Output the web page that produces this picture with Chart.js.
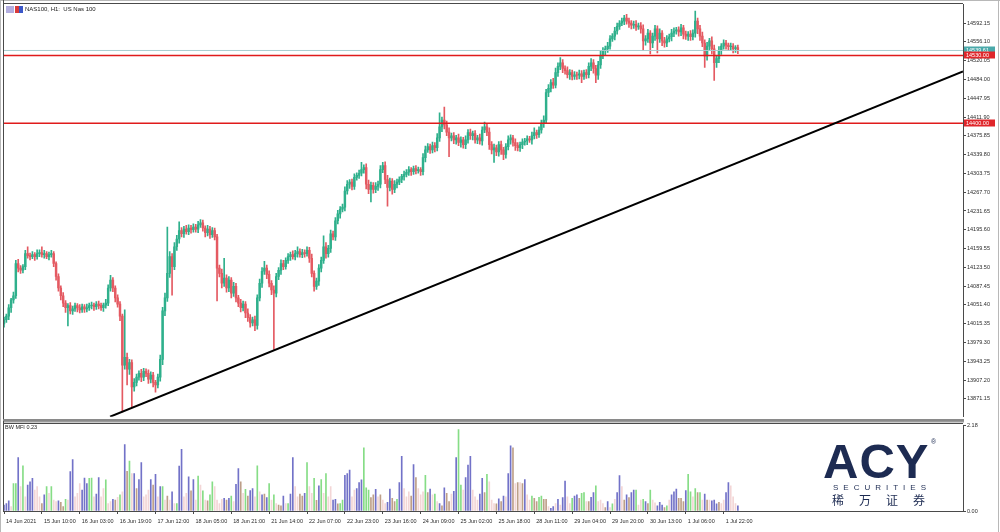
<!DOCTYPE html>
<html>
<head>
<meta charset="utf-8">
<title>NAS100 H1</title>
<script src="https://cdn.jsdelivr.net/npm/chart.js@4.4.1/dist/chart.umd.min.js"></script>
<style>
    html, body { margin: 0; padding: 0; background: #fff; }
    #wrap { position: relative; width: 1000px; height: 532px; overflow: hidden; background: #fff; }
    canvas { position: absolute; left: 0; display: block; }
    #main { top: 0; }
    #mfi { top: 421px; }
    .logo { position: absolute; color: #1d2b52; white-space: nowrap; }
</style>
</head>
<body>
<div id="wrap">
    <canvas id="main" width="1000" height="421" style="width:1000px;height:421px"></canvas>
    <canvas id="mfi" width="1000" height="111" style="width:1000px;height:111px"></canvas>
    <div class="logo" style="left:823px;top:437px;font:bold 49px/49px 'Liberation Sans',Arial,sans-serif;letter-spacing:1px">ACY</div>
    <div class="logo" style="left:931px;top:438px;font:7px/7px 'Liberation Sans',Arial,sans-serif">®</div>
    <div class="logo" style="left:833px;top:484px;font:8px/8px 'Liberation Sans',Arial,sans-serif;letter-spacing:5px">SECURITIES</div>
    <div class="logo" style="left:832px;top:493px;font:12px/13px 'Noto Sans CJK SC',sans-serif;letter-spacing:15px">稀万证券</div>
</div>
<script>
// ---- data ----
var firstOpen = 14015;

// H1 closes, one per bar (open = previous close)
var closes = [
    14023,14030,14046,14061,14069,14131,14122,14118,14125,14150,
    14146,14144,14148,14144,14150,14152,14148,14150,14144,14148,
    14150,14131,14106,14084,14069,14055,14046,14050,14040,14044,
    14050,14046,14042,14048,14044,14046,14050,14051,14048,14053,
    14050,14046,14051,14055,14084,14099,14084,14065,14053,14030,
    13936,13951,13928,13941,13894,13903,13913,13920,13913,13924,
    13920,13909,13917,13903,13898,13913,13947,14040,14065,14112,
    14144,14125,14163,14178,14194,14188,14197,14192,14199,14196,
    14201,14197,14205,14209,14199,14190,14197,14186,14194,14182,
    14122,14112,14093,14103,14084,14099,14074,14087,14065,14055,
    14046,14053,14036,14027,14017,14023,14012,14065,14093,14116,
    14122,14110,14093,14080,14074,14106,14118,14131,14125,14137,
    14144,14148,14144,14150,14154,14148,14152,14150,14156,14141,
    14112,14087,14097,14122,14137,14163,14150,14160,14188,14182,
    14213,14226,14235,14239,14270,14283,14287,14279,14296,14300,
    14304,14311,14315,14283,14273,14281,14273,14279,14283,14311,
    14319,14292,14277,14289,14273,14283,14287,14292,14298,14302,
    14306,14311,14307,14313,14309,14311,14307,14334,14349,14355,
    14349,14357,14353,14372,14393,14406,14397,14383,14372,14376,
    14368,14372,14363,14368,14359,14368,14382,14376,14380,14368,
    14372,14366,14387,14393,14383,14359,14349,14353,14345,14359,
    14349,14340,14355,14368,14372,14363,14357,14353,14359,14364,
    14366,14370,14368,14376,14382,14378,14387,14399,14406,14459,
    14467,14478,14473,14497,14509,14516,14505,14501,14493,14497,
    14490,14493,14492,14495,14490,14497,14493,14509,14516,14505,
    14492,14512,14530,14539,14543,14548,14562,14567,14577,14586,
    14592,14596,14602,14596,14592,14588,14590,14585,14587,14581,
    14558,14562,14573,14554,14567,14581,14562,14573,14558,14554,
    14562,14566,14573,14577,14579,14575,14583,14571,14567,14571,
    14566,14573,14596,14581,14567,14554,14529,14548,14558,14543,
    14516,14524,14539,14548,14554,14550,14547,14548,14543,14545,
    14539.61
];

// shadow above / below the body, in points
var upperWick = [
    5,4,6,3,7,6,8,5,4,6,  13,5,6,4,7,5,11,6,4,5,  6,4,3,5,4,6,5,4,6,5,  5,4,6,5,4,7,5,6,4,5,
    6,5,4,7,6,9,5,4,6,5,  4,91,8,6,5,7,6,5,8,6,  5,7,6,5,4,6,8,7,9,89,  10,6,8,7,17,6,5,7,6,5,
    6,5,7,6,5,4,7,5,6,5,  5,6,8,38,6,7,5,8,6,5,  7,6,5,8,6,5,7,6,8,7,  13,6,7,5,8,6,5,7,6,5,
    6,5,7,6,9,5,6,5,7,6,  8,5,6,7,6,21,8,6,7,5,  6,7,5,6,8,7,5,6,7,5,  6,14,5,7,8,6,5,7,6,8,
    6,7,8,6,5,7,6,5,4,6,  5,6,4,5,6,5,4,8,7,6,  5,7,6,8,27,6,25,7,8,5,  6,5,7,6,5,8,6,7,5,6,
    5,7,6,9,5,8,6,7,5,6,  7,5,6,8,6,5,7,6,5,6,  5,6,5,7,9,5,6,7,8,6,  7,6,8,9,7,10,6,5,7,6,
    5,6,5,7,6,5,6,7,8,6,  6,7,8,6,5,7,6,5,7,6,  5,6,5,7,6,5,6,7,5,6,  8,6,7,5,6,7,6,8,5,7,
    6,5,7,6,5,6,7,5,6,5,  7,6,19,6,7,8,6,7,5,8,  7,6,8,5,6,5,4,6,5,4,  5
];
var lowerWick = [
    6,5,7,9,6,5,7,6,5,6,  5,6,4,7,5,6,5,7,4,6,  5,6,7,6,8,7,9,35,6,7,  5,8,6,5,7,6,5,6,7,5,
    6,5,7,6,5,6,7,8,6,9,  90,8,30,10,38,8,7,6,9,7,  6,8,7,9,14,6,8,10,9,7,  8,55,6,7,8,6,7,5,6,7,
    5,6,7,5,6,8,6,7,5,6,  63,7,9,6,8,7,9,6,8,7,  8,6,9,7,8,6,10,7,6,8,  6,8,7,9,108,7,6,8,6,5,
    6,7,5,6,7,5,6,7,5,8,  7,9,6,8,7,6,9,7,8,6,  7,6,8,5,7,6,8,7,6,5,  6,5,7,9,8,24,7,6,8,7,
    6,8,36,7,9,6,7,5,6,7,  5,6,7,5,6,5,7,6,8,5,  7,6,8,6,7,9,8,7,36,6,  7,8,6,9,7,8,6,7,8,6,
    7,6,8,5,7,9,8,24,7,8,  9,10,7,6,8,7,9,6,7,8,  6,7,5,8,6,7,5,6,7,5,  8,7,6,5,7,6,8,7,6,9,
    7,6,8,7,12,6,7,6,8,9,  14,8,7,6,8,7,6,5,7,6,  6,5,7,6,8,7,6,7,5,8,  19,8,7,21,9,8,27,7,9,8,
    7,6,8,7,6,8,7,9,6,8,  7,6,8,9,8,7,22,8,9,10,  34,9,8,7,6,8,7,6,8,7,  6
];

// Bill Williams MFI, one bar per candle; kind: g green, r brown, b blue (fake), p pink (squat)
var mfiValues = [
    0.15,0.19,0.26,0.11,0.70,0.70,1.36,0.62,1.15,0.36,  0.66,0.74,0.83,0.53,0.62,0.36,0.19,0.41,0.62,0.45,
    0.62,0.28,0.24,0.26,0.22,0.11,0.30,0.28,1.00,1.31,  0.36,0.45,0.70,0.53,0.84,0.70,0.83,0.84,0.36,0.43,
    0.85,0.36,0.57,0.79,0.19,0.24,0.30,0.28,0.35,0.41,  0.49,1.69,1.01,1.27,0.95,0.95,0.57,0.80,1.23,0.36,
    0.41,0.53,0.80,0.66,0.93,0.36,0.62,0.62,0.28,0.38,  0.28,0.49,0.19,0.19,1.14,1.57,0.36,0.45,0.87,0.51,
    0.80,0.28,0.89,0.66,0.51,0.28,0.26,0.41,0.74,0.62,  0.28,0.19,0.30,0.32,0.28,0.32,0.38,0.24,0.68,1.08,
    0.74,0.45,0.55,0.38,0.52,0.57,0.36,1.15,0.49,0.41,  0.43,0.34,0.70,0.28,0.41,0.19,0.15,0.13,0.38,0.19,
    0.19,0.43,1.36,0.62,0.36,0.43,0.38,0.45,1.23,0.62,  0.45,0.83,0.27,0.64,0.80,0.45,0.95,0.36,0.62,0.28,
    0.30,0.18,0.19,0.28,0.91,0.95,1.04,0.36,0.53,0.57,  0.72,0.79,1.61,0.59,0.53,0.34,0.41,0.55,0.36,0.41,
    0.28,0.19,0.22,0.56,0.32,0.24,0.30,0.72,1.39,0.57,  0.36,0.49,0.38,1.18,0.85,0.57,0.41,0.49,0.91,0.47,
    0.56,0.41,0.43,0.24,0.19,0.13,0.59,0.45,0.24,0.43,  0.50,1.36,2.07,0.66,0.53,0.85,1.17,1.39,0.53,0.36,
    0.28,0.43,0.83,0.47,0.93,0.74,0.28,0.19,0.18,0.31,  0.24,0.38,0.36,0.95,1.66,1.61,0.70,0.72,0.72,0.70,
    0.80,0.41,0.28,0.38,0.32,0.24,0.35,0.38,0.30,0.30,  0.11,0.07,0.11,0.19,0.30,0.15,0.34,0.76,0.36,0.19,
    0.32,0.38,0.41,0.32,0.45,0.47,0.24,0.24,0.35,0.47,  0.64,0.24,0.28,0.19,0.09,0.24,0.09,0.18,0.30,0.47,
    0.90,0.62,0.28,0.41,0.34,0.47,0.53,0.53,0.15,0.28,  0.30,0.24,0.19,0.53,0.28,0.21,0.13,0.22,0.15,0.09,
    0.13,0.28,0.41,0.49,0.56,0.32,0.32,0.24,0.52,0.93,  0.49,0.36,0.57,0.47,0.47,0.28,0.43,0.28,0.28,0.26,
    0.28,0.18,0.22,0.19,0.28,0.47,0.72,0.64,0.36,0.19,  0.13
];
var mfiKinds = (
    'bbbpggbpgp' + 'bbbppprbgp' + 'gppbrrgpbb' + 'pppbbbggpb' + 'bppgppbrpg' + 'pbrgpbrbbp' +
    'ppbrbpbgpr' + 'pbpgbbppbr' + 'bpgpgprggp' + 'pppbrbgpbb' + 'rpgrbbpgpb' + 'rbgpgprrbp' +
    'gbbpprrbgp' + 'pgrbgpgppb' + 'brggbbbppb' + 'bbgggrrbpr' + 'ppbbrrgbbp' + 'pprbrpppgr' +
    'bpgpbrbrrp' + 'bbggpbbbpp' + 'pbbrgppprb' + 'rbpbbrprpr' + 'bppgrrggrr' + 'pbbpbpbbpp' +
    'gbbrggprbb' + 'gppprbpgpb' + 'bprbrbbgpp' + 'gbrgppbbbr' + 'gpbbbrrrbg' + 'gpgrgpbrpb' +
    'bbrppbbppp' + 'b'
).split('');
var mfiLast = 0.23;
var mfiTicks = [2.18, 0.00];

var priceTicks = [
    14592.15, 14556.10, 14520.05, 14484.00, 14447.95, 14411.90, 14375.85,
    14339.80, 14303.75, 14267.70, 14231.65, 14195.60, 14159.55, 14123.50,
    14087.45, 14051.40, 14015.35, 13979.30, 13943.25, 13907.20, 13871.15
];
var timeTickBars = [0, 16, 32, 48, 64, 80, 96, 112, 128, 144, 160, 176, 192, 208, 224, 240, 256, 272, 288, 304];
var timeTickLabels = [
    '14 Jun 2021', '15 Jun 10:00', '16 Jun 03:00', '16 Jun 19:00', '17 Jun 12:00',
    '18 Jun 05:00', '18 Jun 21:00', '21 Jun 14:00', '22 Jun 07:00', '22 Jun 23:00',
    '23 Jun 16:00', '24 Jun 09:00', '25 Jun 02:00', '25 Jun 18:00', '28 Jun 11:00',
    '29 Jun 04:00', '29 Jun 20:00', '30 Jun 13:00', '1 Jul 06:00', '1 Jul 22:00'
];

var levels = [14530.00, 14400.00];
var lastPrice = 14539.61;
var trendLine = [{x: 44.8, y: 13837}, {x: 405.1, y: 14499.2}];

// ---- look ----
var X_MIN = -0.42, X_MAX = 405.1;
var Y_MIN = 13837.0, Y_MAX = 14628.2;
var BULL = '#2fb08c', BEAR = '#e45a62';
var MFI_COLORS = { g: '#86dd86', r: '#bd9f88', b: '#7272c8', p: '#f3d6d6' };
var AXIS = '#4a4a4a';
var FONT = '"Liberation Sans", Arial, sans-serif';

Chart.defaults.font.family = FONT;
Chart.defaults.color = '#2a2a2a';

// candles as two floating bar sets: shadows and bodies
var bodies = [], shadows = [], candleColors = [];
for (var i = 0; i < closes.length; i++) {
    var o = i === 0 ? firstOpen : closes[i - 1];
    var c = closes[i];
    bodies.push({x: i, y: [o, c]});
    shadows.push({x: i, y: [Math.min(o, c) - lowerWick[i], Math.max(o, c) + upperWick[i]]});
    candleColors.push(c >= o ? BULL : BEAR);
}

var mfiBars = [], mfiColors = [];
for (var j = 0; j < mfiValues.length; j++) {
    mfiBars.push({x: j, y: mfiValues[j]});
    mfiColors.push(MFI_COLORS[mfiKinds[j]]);
}

function flatLine(value) {
    return [{x: X_MIN, y: value}, {x: X_MAX, y: value}];
}

function priceBox(ctx, y, text, bg) {
    ctx.fillStyle = bg;
    ctx.fillRect(964, Math.round(y) - 3.5, 31, 7);
    ctx.fillStyle = '#fff';
    ctx.font = '5.5px ' + FONT;
    ctx.textAlign = 'left';
    ctx.textBaseline = 'middle';
    ctx.fillText(text, 966, Math.round(y));
}

var mainDecor = {
    id: 'mainDecor',
    afterDraw: function(chart) {
        var ctx = chart.ctx;
        var area = chart.chartArea;
        var ys = chart.scales.y;
        ctx.save();

        // window edge and panel frame
        ctx.fillStyle = '#b8b8b8';
        ctx.fillRect(0, 0, 1, chart.height);
        ctx.fillRect(0, 0, chart.width, 1);
        ctx.fillRect(998, 0, 1, chart.height);
        ctx.strokeStyle = AXIS;
        ctx.lineWidth = 1;
        ctx.beginPath();
        ctx.moveTo(3.5, 0);
        ctx.lineTo(3.5, chart.height);
        ctx.moveTo(3, 3.5);
        ctx.lineTo(area.right, 3.5);
        ctx.stroke();
        ctx.fillStyle = '#8a8a8a';
        ctx.fillRect(3, chart.height - 2, area.right - 3 + 1, 2);

        // symbol caption
        ctx.fillStyle = '#b3aee0';
        ctx.fillRect(6, 6, 8, 7);
        ctx.fillStyle = '#d83b3b';
        ctx.fillRect(15, 6, 4, 7);
        ctx.fillStyle = '#3b57c8';
        ctx.fillRect(19, 6, 4, 7);
        ctx.fillStyle = '#222';
        ctx.font = '6px ' + FONT;
        ctx.textAlign = 'left';
        ctx.textBaseline = 'middle';
        ctx.fillText('NAS100, H1:  US Nas 100', 25, 9.5);

        // price tags on the axis
        priceBox(ctx, ys.getPixelForValue(lastPrice), lastPrice.toFixed(2), '#4aa9aa');
        levels.forEach(function(v) {
            priceBox(ctx, ys.getPixelForValue(v), v.toFixed(2), '#e0262b');
        });
        ctx.restore();
    }
};

var mfiDecor = {
    id: 'mfiDecor',
    afterDraw: function(chart) {
        var ctx = chart.ctx;
        var area = chart.chartArea;
        ctx.save();
        ctx.fillStyle = '#b8b8b8';
        ctx.fillRect(0, 0, 1, chart.height);
        ctx.fillRect(998, 0, 1, chart.height);
        ctx.fillStyle = '#9a9a9a';
        ctx.fillRect(3, 0, area.right - 3 + 1, 1.5);
        ctx.strokeStyle = AXIS;
        ctx.lineWidth = 1;
        ctx.beginPath();
        ctx.moveTo(3.5, 0);
        ctx.lineTo(3.5, area.bottom);
        ctx.moveTo(3, 2.5);
        ctx.lineTo(area.right, 2.5);
        ctx.stroke();
        ctx.fillStyle = '#222';
        ctx.font = '5.5px ' + FONT;
        ctx.textAlign = 'left';
        ctx.textBaseline = 'middle';
        ctx.fillText('BW MFI ' + mfiLast.toFixed(2), 5, 6);
        ctx.restore();
    }
};

// price panel
new Chart(document.getElementById('main'), {
    type: 'bar',
    data: {
        datasets: [
            { type: 'line', data: trendLine, borderColor: '#000', borderWidth: 2, pointRadius: 0, order: 0 },
            { type: 'line', data: flatLine(levels[0]), borderColor: '#e01b1b', borderWidth: 1.5, pointRadius: 0, order: 0 },
            { type: 'line', data: flatLine(levels[1]), borderColor: '#e01b1b', borderWidth: 1.5, pointRadius: 0, order: 0 },
            { type: 'line', data: flatLine(lastPrice), borderColor: '#a9cdd0', borderWidth: 1, pointRadius: 0, order: 0 },
            { data: shadows, backgroundColor: candleColors, barThickness: 1, grouped: false, order: 2 },
            { data: bodies, backgroundColor: candleColors, barThickness: 1.8, grouped: false, order: 1 }
        ]
    },
    options: {
        responsive: false,
        animation: false,
        layout: { padding: { left: 3, top: 3, right: 0, bottom: 1 } },
        plugins: { legend: { display: false }, tooltip: { enabled: false } },
        scales: {
            x: { type: 'linear', min: X_MIN, max: X_MAX, offset: false, display: false },
            y: {
                type: 'linear',
                position: 'right',
                min: Y_MIN,
                max: Y_MAX,
                afterBuildTicks: function(scale) {
                    scale.ticks = priceTicks.map(function(v) { return {value: v}; });
                },
                afterFit: function(scale) { scale.width = 37; },
                grid: { drawOnChartArea: false, tickLength: 3, color: AXIS },
                border: { display: true, color: AXIS },
                ticks: {
                    font: { size: 5.5 },
                    padding: 1,
                    callback: function(v) { return v.toFixed(2); }
                }
            }
        }
    },
    plugins: [mainDecor]
});

// Bill Williams MFI panel with the time axis
new Chart(document.getElementById('mfi'), {
    type: 'bar',
    data: {
        datasets: [
            { data: mfiBars, backgroundColor: mfiColors, barThickness: 1, grouped: false }
        ]
    },
    options: {
        responsive: false,
        animation: false,
        layout: { padding: { left: 3, top: 2, right: 0, bottom: 0 } },
        plugins: { legend: { display: false }, tooltip: { enabled: false } },
        scales: {
            x: {
                type: 'linear',
                min: X_MIN,
                max: X_MAX,
                offset: false,
                afterBuildTicks: function(scale) {
                    scale.ticks = timeTickBars.map(function(v) { return {value: v}; });
                },
                afterFit: function(scale) { scale.height = 21; },
                grid: { drawOnChartArea: false, tickLength: 3, color: AXIS, offset: false },
                border: { display: true, color: AXIS },
                ticks: {
                    font: { size: 5.5 },
                    align: 'start',
                    labelOffset: 2,
                    padding: 4,
                    autoSkip: false,
                    maxRotation: 0,
                    callback: function(v) {
                        var k = timeTickBars.indexOf(v);
                        return k >= 0 ? timeTickLabels[k] : '';
                    }
                }
            },
            y: {
                type: 'linear',
                position: 'right',
                min: 0,
                max: 2.18,
                afterBuildTicks: function(scale) {
                    scale.ticks = mfiTicks.map(function(v) { return {value: v}; });
                },
                afterFit: function(scale) { scale.width = 37; },
                grid: { drawOnChartArea: false, tickLength: 3, color: AXIS },
                border: { display: true, color: AXIS },
                ticks: {
                    font: { size: 5.5 },
                    padding: 1,
                    callback: function(v) { return v.toFixed(2); }
                }
            }
        }
    },
    plugins: [mfiDecor]
});
</script>
</body>
</html>
